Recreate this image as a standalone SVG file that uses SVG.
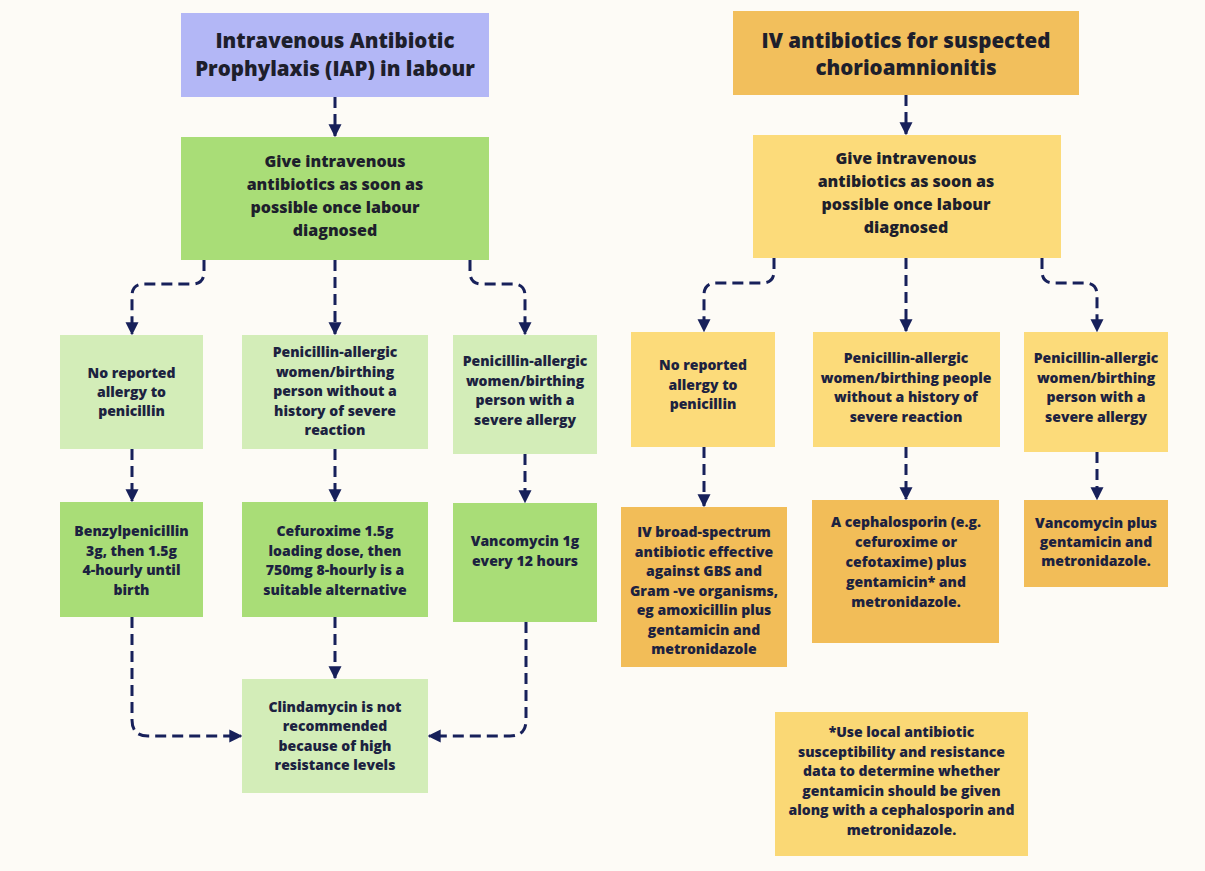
<svg xmlns="http://www.w3.org/2000/svg" width="1205" height="871" viewBox="0 0 1205 871">
  <style>
    .t { font-family: "Open Sans", Lato, "Liberation Sans", sans-serif; font-weight: 800; fill: #1c2240; text-anchor: middle; }
    .h1 { font-size: 20.5px; fill: #1e1f2c; }
    .h2 { font-size: 16px; fill: #1e1f2c; }
    .s { font-size: 14px; }
    .purple { fill: #b3b7f6; }
    .green { fill: #a9dd77; }
    .lgreen { fill: #d3edb8; }
    .orange { fill: #f2bf5c; }
    .yellow { fill: #fcdb7a; }
    .dorange { fill: #f2bd58; }
    .note { fill: #fad875; }
    .link { fill: none; stroke: #17205a; stroke-width: 3; stroke-dasharray: 11 6; marker-end: url(#arrow); }
  </style>
  <defs>
    <marker id="arrow" viewBox="0 0 10 10" refX="9" refY="5" markerWidth="13" markerHeight="14" markerUnits="userSpaceOnUse" orient="auto">
      <path d="M0,0 L10,5 L0,10 Z" fill="#17205a"/>
    </marker>
  </defs>

  <rect width="1205" height="871" fill="#fdfbf6"/>

  <!-- connectors -->
  <g id="connectors">
    <!-- IAP side -->
    <path class="link" d="M335,97 V136"/>
    <path class="link" d="M204,260 V272 Q204,284 192,284 H144 Q132,284 132,296 V334"/>
    <path class="link" d="M335,260 V334"/>
    <path class="link" d="M470,260 V272 Q470,284 482,284 H513 Q525,284 525,296 V334"/>
    <path class="link" d="M132,449 V501"/>
    <path class="link" d="M335,449 V501"/>
    <path class="link" d="M525,454 V502"/>
    <path class="link" d="M132,617 V720 Q132,736 148,736 H241"/>
    <path class="link" d="M335,617 V678"/>
    <path class="link" d="M526,622 V720 Q526,736 510,736 H429"/>
    <!-- chorioamnionitis side -->
    <path class="link" d="M906,95 V134"/>
    <path class="link" d="M774,258 V271 Q774,283 762,283 H716 Q704,283 704,295 V331"/>
    <path class="link" d="M906,258 V331"/>
    <path class="link" d="M1042,258 V271 Q1042,283 1054,283 H1085 Q1097,283 1097,295 V331"/>
    <path class="link" d="M704,447 V506"/>
    <path class="link" d="M906,447 V499"/>
    <path class="link" d="M1097,452 V499"/>
  </g>

  <!-- IAP flow -->
  <g id="iap-title">
    <rect class="purple" x="181" y="13" width="308" height="84"/>
    <text class="t h1" x="335"><tspan x="335" y="48">Intravenous Antibiotic</tspan><tspan x="335" y="76">Prophylaxis (IAP) in labour</tspan></text>
  </g>
  <g id="iap-give">
    <rect class="green" x="181" y="137" width="308" height="123"/>
    <text class="t h2"><tspan x="335" y="167">Give intravenous</tspan><tspan x="335" y="190">antibiotics as soon as</tspan><tspan x="335" y="213">possible once labour</tspan><tspan x="335" y="236">diagnosed</tspan></text>
  </g>
  <g id="iap-no-allergy">
    <rect class="lgreen" x="60" y="335" width="143" height="114"/>
    <text class="t s"><tspan x="131.5" y="378">No reported</tspan><tspan x="131.5" y="397">allergy to</tspan><tspan x="131.5" y="416">penicillin</tspan></text>
  </g>
  <g id="iap-allergy-nonsevere">
    <rect class="lgreen" x="242" y="335" width="186" height="114"/>
    <text class="t s"><tspan x="335" y="357">Penicillin-allergic</tspan><tspan x="335" y="376.5">women/birthing</tspan><tspan x="335" y="396">person without a</tspan><tspan x="335" y="415.5">history of severe</tspan><tspan x="335" y="435">reaction</tspan></text>
  </g>
  <g id="iap-allergy-severe">
    <rect class="lgreen" x="453" y="335" width="144" height="119"/>
    <text class="t s"><tspan x="525" y="366">Penicillin-allergic</tspan><tspan x="525" y="385.5">women/birthing</tspan><tspan x="525" y="405">person with a</tspan><tspan x="525" y="424.5">severe allergy</tspan></text>
  </g>
  <g id="iap-benzylpenicillin">
    <rect class="green" x="60" y="502" width="143" height="115"/>
    <text class="t s"><tspan x="131.5" y="536">Benzylpenicillin</tspan><tspan x="131.5" y="555.5">3g, then 1.5g</tspan><tspan x="131.5" y="575">4-hourly until</tspan><tspan x="131.5" y="594.5">birth</tspan></text>
  </g>
  <g id="iap-cefuroxime">
    <rect class="green" x="242" y="502" width="186" height="115"/>
    <text class="t s"><tspan x="335" y="536">Cefuroxime 1.5g</tspan><tspan x="335" y="555.5">loading dose, then</tspan><tspan x="335" y="575">750mg 8-hourly is a</tspan><tspan x="335" y="594.5">suitable alternative</tspan></text>
  </g>
  <g id="iap-vancomycin">
    <rect class="green" x="453" y="503" width="144" height="119"/>
    <text class="t s"><tspan x="525" y="546">Vancomycin 1g</tspan><tspan x="525" y="565.5">every 12 hours</tspan></text>
  </g>
  <g id="iap-clindamycin">
    <rect class="lgreen" x="242" y="679" width="186" height="114"/>
    <text class="t s"><tspan x="335" y="712">Clindamycin is not</tspan><tspan x="335" y="731">recommended</tspan><tspan x="335" y="750.5">because of high</tspan><tspan x="335" y="770">resistance levels</tspan></text>
  </g>

  <!-- chorioamnionitis flow -->
  <g id="chorio-title">
    <rect class="orange" x="733" y="11" width="346" height="84"/>
    <text class="t h1"><tspan x="906" y="48">IV antibiotics for suspected</tspan><tspan x="906" y="75">chorioamnionitis</tspan></text>
  </g>
  <g id="chorio-give">
    <rect class="yellow" x="753" y="135" width="308" height="123"/>
    <text class="t h2"><tspan x="906" y="164">Give intravenous</tspan><tspan x="906" y="187">antibiotics as soon as</tspan><tspan x="906" y="210">possible once labour</tspan><tspan x="906" y="233">diagnosed</tspan></text>
  </g>
  <g id="chorio-no-allergy">
    <rect class="yellow" x="631" y="332" width="144" height="115"/>
    <text class="t s"><tspan x="703" y="370">No reported</tspan><tspan x="703" y="389.5">allergy to</tspan><tspan x="703" y="409">penicillin</tspan></text>
  </g>
  <g id="chorio-allergy-nonsevere">
    <rect class="yellow" x="813" y="332" width="187" height="115"/>
    <text class="t s"><tspan x="906" y="363">Penicillin-allergic</tspan><tspan x="906" y="382.5">women/birthing people</tspan><tspan x="906" y="402">without a history of</tspan><tspan x="906" y="421.5">severe reaction</tspan></text>
  </g>
  <g id="chorio-allergy-severe">
    <rect class="yellow" x="1024" y="332" width="144" height="120"/>
    <text class="t s"><tspan x="1096" y="363">Penicillin-allergic</tspan><tspan x="1096" y="382.5">women/birthing</tspan><tspan x="1096" y="402">person with a</tspan><tspan x="1096" y="421.5">severe allergy</tspan></text>
  </g>
  <g id="chorio-broad-spectrum">
    <rect class="dorange" x="621" y="507" width="166" height="160"/>
    <text class="t s"><tspan x="704" y="537">IV broad-spectrum</tspan><tspan x="704" y="556.5">antibiotic effective</tspan><tspan x="704" y="576">against GBS and</tspan><tspan x="704" y="595.5">Gram -ve organisms,</tspan><tspan x="704" y="615">eg amoxicillin plus</tspan><tspan x="704" y="634.5">gentamicin and</tspan><tspan x="704" y="654">metronidazole</tspan></text>
  </g>
  <g id="chorio-cephalosporin">
    <rect class="dorange" x="812" y="500" width="187" height="143"/>
    <text class="t s"><tspan x="906" y="527">A cephalosporin (e.g.</tspan><tspan x="906" y="547">cefuroxime or</tspan><tspan x="906" y="567">cefotaxime) plus</tspan><tspan x="906" y="587">gentamicin* and</tspan><tspan x="906" y="607">metronidazole.</tspan></text>
  </g>
  <g id="chorio-vancomycin">
    <rect class="dorange" x="1024" y="500" width="144" height="87"/>
    <text class="t s"><tspan x="1096" y="528">Vancomycin plus</tspan><tspan x="1096" y="547">gentamicin and</tspan><tspan x="1096" y="566">metronidazole.</tspan></text>
  </g>
  <g id="chorio-note">
    <rect class="note" x="775" y="712" width="253" height="144"/>
    <text class="t s"><tspan x="901.5" y="737">*Use local antibiotic</tspan><tspan x="901.5" y="756.5">susceptibility and resistance</tspan><tspan x="901.5" y="776">data to determine whether</tspan><tspan x="901.5" y="795.5">gentamicin should be given</tspan><tspan x="901.5" y="815">along with a cephalosporin and</tspan><tspan x="901.5" y="834.5">metronidazole.</tspan></text>
  </g>
</svg>
